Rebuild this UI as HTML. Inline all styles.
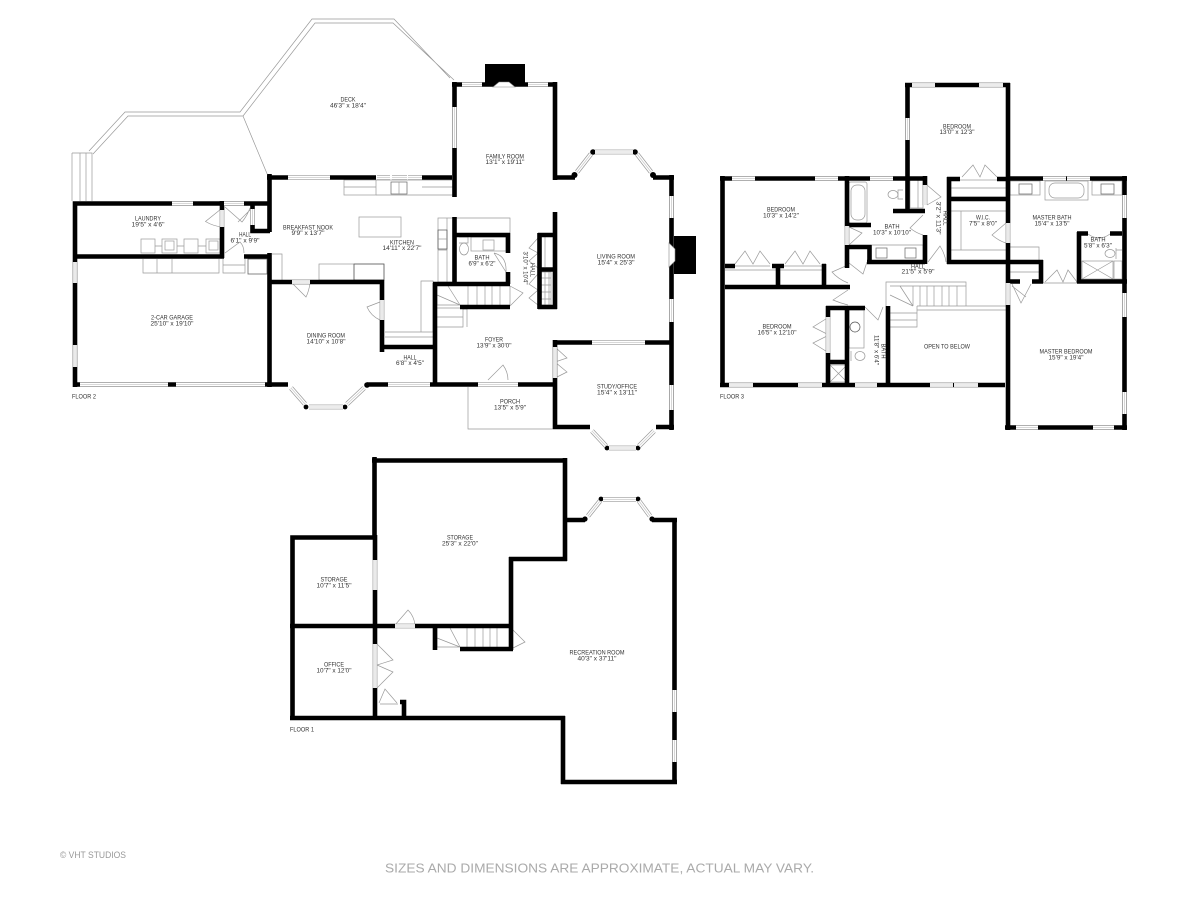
<!DOCTYPE html>
<html><head><meta charset="utf-8"><style>
html,body{margin:0;padding:0;background:#fff;width:1200px;height:900px;overflow:hidden}
svg{display:block;filter:blur(.3px)}
.wall{fill:none;stroke:#000;stroke-width:4.6}
.thin{fill:none;stroke:#999;stroke-width:.7}
.dk{fill:none;stroke:#666;stroke-width:.8}
text{font-family:"Liberation Sans",sans-serif;font-size:6.6px;fill:#333;text-anchor:middle;dominant-baseline:central}
</style></head><body>
<svg width="1200" height="900" viewBox="0 0 1200 900" xmlns="http://www.w3.org/2000/svg">
<defs>
<path id="W" fill="none" d="M172 203.5H193M224 203.5H244M75 262V283M75 345V367M80 384.5H168M176 384.5H265M288 177.5H330M377 177.5H390M392 177.5H407M408 177.5H422M454.5 107V148M462 84.5H482M528 84.5H548M577 172L591 154M595 152H633M637 154L651 172M671.5 196V218M671.5 299V322M671.5 385V410M592 342.5H645M555 347V378M592 431L606 446M609 448H636M639 446L654 431M388 384.5H430M478 384.5H518M292 282H310M382 300V320M291 388L305 404M309 407H343M347 404L364 388M912 85H935M979 85H1003M907.5 118V140M732 178.5H755M815 178.5H838M870 178.5H893M1043 178.5H1066M1067 178.5H1090M1008 223V243M1008 283V305M1124.5 195V218M1124.5 293V317M1124.5 392V414M729 385H753M798 385H822M855 385H877M930 385H953M954 385H978M1016 427.5H1038M1093 427.5H1114M375 560V590M395 626H415M674.5 690V712M674.5 740V762M588 516L600 501M603 499.5H636M639 501L650 516M828 317V353M375 644V688M847 226V245M925 185V205M252.5 209V225M222 210V227"/>
</defs>

<!-- deck -->
<path class="thin" d="M89 151L125 112H240L312 19H394L450 78M93 154L128 116H243L315 23H393L454 80M243 116L268 176"/>
<path class="thin" d="M72 153H92V201M72 153V201M80 153V201M86 153V201"/>

<!-- fixtures floor 2 -->
<g class="thin">
<path d="M141 246H220M143 259V273H219V259M157 259V273M172 259V273"/>
<rect x="141" y="239" width="14" height="14" fill="#fff"/><rect x="162" y="239" width="15" height="14" fill="#fff"/><rect x="184" y="239" width="14" height="14" fill="#fff"/><rect x="206" y="239" width="14" height="14" fill="#fff"/>
<rect x="165" y="241" width="9" height="9" /><rect x="209" y="241" width="9" height="9"/>
<path d="M223 259V273H245V259M223 265H245"/>
<rect x="344" y="180" width="32" height="15"/><path d="M344 187H376M376 180H453V195H376M422 187H453"/>
<rect x="391" y="182" width="16" height="12" stroke="#666"/><path d="M399 182V194"/>
<rect x="359" y="217" width="42" height="20"/>
<rect x="319" y="264" width="65" height="16"/><path d="M354 264V280M272 254H282V280"/>
<rect x="354" y="264" width="30" height="16" stroke="#555"/>
<rect x="438" y="218" width="15" height="64"/><path d="M438 250H447V265M447 218V282"/>
<rect x="438" y="230" width="9" height="19" stroke="#555"/><path d="M438 239H447"/>
<path d="M453 218H510V233"/>
<rect x="471" y="237" width="35" height="14"/><rect x="483" y="240" width="11" height="10"/><ellipse cx="464" cy="249" rx="4.5" ry="6"/><path d="M459 237H468V243H459"/>
<path d="M437 286V305M510 286V305M437 305H460M468 286V305M477 286V305M485 286V305M492 286V305M500 286V305M437 295L460 305M448 286L460 305M437 308H463V327H437M437 317H463M463 309H467V327"/>
<path d="M385 332H433M385 337H433M421 332V281H433V332"/>
<path d="M541 237V267M545 237V267M541 272H551V305H541M545 272V305M549 272V305M541 278H551M541 285H551M541 292H551M541 299H551"/>
<path d="M468 387V429H553"/>
</g>
<rect x="248" y="259" width="19" height="15" class="dk"/>
<!-- doors floor 2 -->
<path class="thin" d="M223.5 207L205.5 221.5Q213 226 222 227M225 207L242 222Q247 216 250 208M252 208L238 222M225 253L240 242Q244 246 244 253M292 283L306 297Q309 291 310 283M380 302L367 307Q371 316 380 320M488 380L503 365Q508 372 508 380M538 238L529 248L538 253L529 261L538 268M538 274L529 284L538 290L529 298L538 305M510 286L523 293L510 306M555 347L567 358L555 362L567 372L555 378M494 253L506 272Q507 256 494 253"/>

<!-- fixtures floor 3 -->
<g class="thin">
<rect x="849" y="182" width="18" height="41" rx="2"/><rect x="851" y="185" width="14" height="35" rx="6"/>
<path d="M903 190H898V199H903"/><ellipse cx="893" cy="194.500" rx="5" ry="4"/>
<rect x="910" y="180" width="13" height="28"/><path d="M918 180V208"/>
<path d="M872 245H923V260"/><rect x="876" y="248" width="11" height="10" stroke="#666"/><rect x="905" y="248" width="11" height="10" stroke="#666"/>
<path d="M725 270H776M780 270H822M735 266H770M784 266H822"/>
<rect x="951" y="180" width="55" height="17"/><path d="M951 188H1006"/>
<path d="M951 211H1006M961 211V250M951 250H1006"/>
<rect x="1010" y="181" width="30" height="14"/><rect x="1019" y="184" width="13" height="10" stroke="#666"/>
<rect x="1045" y="181" width="43" height="19"/><rect x="1049" y="183" width="35" height="15" rx="6"/>
<rect x="1092" y="181" width="30" height="14"/><rect x="1101" y="184" width="13" height="10" stroke="#666"/>
<path d="M1010 247H1039V260M1010 272H1040"/>
<path d="M1116 248V259M1122 250H1116"/><ellipse cx="1110" cy="253.500" rx="5" ry="4"/>
<rect x="1082" y="261" width="31" height="18"/><path d="M1082 261L1113 279M1113 261L1082 279"/>
<rect x="1114" y="261" width="8" height="18"/>
<rect x="849" y="310" width="15" height="38"/><circle cx="855" cy="327" r="5" stroke="#555"/>
<ellipse cx="860" cy="356" rx="5" ry="4.500"/><path d="M851 351V361"/>
<rect x="830" y="365" width="17" height="17"/><path d="M830 365L847 382M847 365L830 382"/>
<path d="M886 306V282H966V306M890 286H966M913 286V306M920 286V306M927 286V306M934 286V306M942 286V306M949 286V306M957 286V306M890 295L913 306M900 286L913 306M890 313H917M890 320H917M917 306V327H890M917 310H1006M917 306H1006"/>
<path d="M1043 283H1077"/>
</g>
<path class="thin" d="M735 264L745 251L753 264L760 251L770 264M785 264L795 251L803 264L810 251L820 264M962 177L973 165L980 177L985 165L997 177M849 227L862 233L849 245M927 185L941 197L927 205M923 215L910 228Q916 233 923 235M928 262L940 246Q945 254 946 262M1006 223L992 235Q999 241 1006 243M848 265L832 272Q838 279 848 283M849 263L863 274L867 262M848 290L833 300Q840 303 848 305M829 317L813 327L829 335L813 343L829 353M865 307L878 320L883 307M1012 284L1021 303L1031 284M1012 286L1026 297M1045 282L1057 270L1063 282L1068 270L1077 282M1088 234Q1099 242 1110 234"/>

<!-- floor 1 fixtures -->
<g class="thin">
<path d="M437 628V647H460M467 628V647M475 628V647M483 628V647M490 628V647M497 628V647M437 638L460 647M450 628L460 647M513 630L525 642L513 648M377 644L393 660L377 665L393 672L377 688M379 703L385 689L397 703M380 704H398M395 625L408 610Q414 616 415 625"/>
</g>

<!-- walls -->
<path class="wall" d="M75 387V203.5H269.5M73 384.5H271M75 256.5H224M244 256.5H269.5M222 201V210M222 227V258M252.5 204V209M252.5 225V231H270M269.500 174V232M269.500 253V387M267 177.500H288M330 177.500H376M422 177.500H452M454.500 82V197M454.500 217V284M452 84.500H557M555 82V180M553 177.500H575M653 177.500H674M671.500 175V430M553 342.500H592M645 342.500H670M555 212V309M555 340V429M553 427H590M656 427H674M370 384.500H388M430 384.500H478M518 384.500H553M269 282H384M382 280V300M382 320V352M269 384.500H288M367 384.500H388M454 235H510M508 233V253M508 272V284M433 284H510M435 283V386M460 307H510M381 347H437M538 235H557M539.500 233V309M538 269.500H557M538 307H557"/>
<path class="wall" d="M905 85H1010M907.500 83V211M1008 83V223M1008 243V283M1008 305V430M720 178.500H927M722.500 176V387M720 385H1005M725 287H850M725 266H735M772 266H784M822 266H826M778 264V287M824 264V287M847 176V227M847 245V268M845 247H869.500V262M867 262H925M925 176V185M925 235V264M893 211H925M845 225H871M949 177V264M947 179H960M997 179H1010M949 199H1006M947 262H1043M1041 260V283M1009 281.500H1020M1032 281.500H1043M1077 281.500H1127M1010 178.500H1127M1124.500 176V430M1005 427.500H1127M1079 232V283M1077 233.500H1088M1110 233.500H1122M826 308H865M828 306V317M828 353V387M847 306V387M826 362H849M888 306V385"/>
<path class="wall" d="M292.500 720V537.500H377M374.500 457V538M372 460.500H567M565 458V561M509 559H567M511 557V650M290 626H395M415 626H513M375 535V560M375 590V644M375 688V717M290 718H565M563 716V784M561 782H677M674.500 518V784M565 520H585M652 520H677M435 627V650M460 649H513M400 702H404V717"/>

<!-- fireplaces and bay corners -->
<rect x="485" y="64" width="40" height="21"/>
<path d="M493 87L499 82H509L515 87Z" fill="#fff" stroke="#888" stroke-width=".6"/>
<rect x="674" y="236" width="22" height="38"/>
<path d="M669 243L675 249V261L669 267Z" fill="#fff" stroke="#888" stroke-width=".6"/>
<g fill="#000">
<circle cx="574.500" cy="175" r="3"/><circle cx="593" cy="152" r="2.800"/><circle cx="635" cy="152" r="2.800"/><circle cx="653" cy="175" r="3"/>
<circle cx="607" cy="448" r="2.400"/><circle cx="638" cy="448" r="2.400"/><circle cx="306" cy="407" r="2.400"/><circle cx="345" cy="407" r="2.400"/><circle cx="367" cy="385" r="2.800"/><circle cx="601" cy="499" r="2.400"/><circle cx="638" cy="499" r="2.400"/><circle cx="585" cy="519" r="2.600"/><circle cx="652" cy="519" r="2.600"/>
</g>

<!-- windows -->
<use href="#W" stroke="#999" stroke-width="4.8"/>
<use href="#W" stroke="#fff" stroke-width="3.4"/>
<use href="#W" stroke="#ccc" stroke-width=".8"/>

<!-- labels floor 2 -->
<text x="348" y="100" textLength="15" lengthAdjust="spacingAndGlyphs">DECK</text><text x="348" y="106" textLength="36" lengthAdjust="spacingAndGlyphs">46'3" x 18'4"</text>
<text x="148" y="219" textLength="26" lengthAdjust="spacingAndGlyphs">LAUNDRY</text><text x="148" y="225" textLength="33" lengthAdjust="spacingAndGlyphs">19'5" x 4'6"</text>
<text x="245" y="235" textLength="12" lengthAdjust="spacingAndGlyphs">HALL</text><text x="245" y="241" textLength="29" lengthAdjust="spacingAndGlyphs">6'1" x 9'9"</text>
<text x="308" y="228" textLength="50" lengthAdjust="spacingAndGlyphs">BREAKFAST NOOK</text><text x="308" y="233.500" textLength="33" lengthAdjust="spacingAndGlyphs">9'9" x 13'7"</text>
<text x="172" y="318" textLength="42" lengthAdjust="spacingAndGlyphs">2-CAR GARAGE</text><text x="172" y="324" textLength="43" lengthAdjust="spacingAndGlyphs">25'10" x 19'10"</text>
<text x="326" y="336" textLength="38" lengthAdjust="spacingAndGlyphs">DINING ROOM</text><text x="326" y="342" textLength="39" lengthAdjust="spacingAndGlyphs">14'10" x 10'8"</text>
<text x="402" y="243" textLength="24" lengthAdjust="spacingAndGlyphs">KITCHEN</text><text x="402" y="248.500" textLength="39" lengthAdjust="spacingAndGlyphs">14'11" x 22'7"</text>
<text x="482" y="258" textLength="15" lengthAdjust="spacingAndGlyphs">BATH</text><text x="482" y="264" textLength="27" lengthAdjust="spacingAndGlyphs">6'9" x 6'2"</text>
<text x="505" y="157" textLength="38" lengthAdjust="spacingAndGlyphs">FAMILY ROOM</text><text x="505" y="162.500" textLength="39" lengthAdjust="spacingAndGlyphs">13'1" x 19'11"</text>
<text x="616" y="257" textLength="38" lengthAdjust="spacingAndGlyphs">LIVING ROOM</text><text x="616" y="263" textLength="37" lengthAdjust="spacingAndGlyphs">15'4" x 25'3"</text>
<text x="494" y="340" textLength="18" lengthAdjust="spacingAndGlyphs">FOYER</text><text x="494" y="346" textLength="35" lengthAdjust="spacingAndGlyphs">13'9" x 30'0"</text>
<text x="410" y="358" textLength="13" lengthAdjust="spacingAndGlyphs">HALL</text><text x="410" y="363.500" textLength="28" lengthAdjust="spacingAndGlyphs">6'8" x 4'5"</text>
<text x="510" y="402" textLength="20" lengthAdjust="spacingAndGlyphs">PORCH</text><text x="510" y="408" textLength="32" lengthAdjust="spacingAndGlyphs">13'5" x 5'9"</text>
<text x="617" y="387" textLength="40" lengthAdjust="spacingAndGlyphs">STUDY/OFFICE</text><text x="617" y="393" textLength="40" lengthAdjust="spacingAndGlyphs">15'4" x 13'11"</text>
<text transform="translate(532 270) rotate(90)" textLength="14" lengthAdjust="spacingAndGlyphs">HALL</text><text transform="translate(525 268) rotate(90)" textLength="33" lengthAdjust="spacingAndGlyphs">3'10" x 10'4"</text>
<text x="84" y="397" textLength="24" lengthAdjust="spacingAndGlyphs">FLOOR 2</text>

<!-- labels floor 3 -->
<text x="957" y="127" textLength="28" lengthAdjust="spacingAndGlyphs">BEDROOM</text><text x="957" y="132.500" textLength="35" lengthAdjust="spacingAndGlyphs">13'0" x 12'3"</text>
<text x="781" y="210" textLength="28" lengthAdjust="spacingAndGlyphs">BEDROOM</text><text x="781" y="216" textLength="36" lengthAdjust="spacingAndGlyphs">10'3" x 14'2"</text>
<text x="892" y="227" textLength="15" lengthAdjust="spacingAndGlyphs">BATH</text><text x="892" y="233" textLength="38" lengthAdjust="spacingAndGlyphs">10'3" x 10'10"</text>
<text transform="translate(945 218) rotate(90)" textLength="15" lengthAdjust="spacingAndGlyphs">HALL</text><text transform="translate(938 218) rotate(90)" textLength="33" lengthAdjust="spacingAndGlyphs">3'2" x 11'3"</text>
<text x="983" y="218" textLength="14" lengthAdjust="spacingAndGlyphs">W.I.C.</text><text x="983" y="224" textLength="28" lengthAdjust="spacingAndGlyphs">7'5" x 8'0"</text>
<text x="1052" y="218" textLength="39" lengthAdjust="spacingAndGlyphs">MASTER BATH</text><text x="1052" y="224" textLength="35" lengthAdjust="spacingAndGlyphs">15'4" x 13'5"</text>
<text x="1098" y="240" textLength="15" lengthAdjust="spacingAndGlyphs">BATH</text><text x="1098" y="246" textLength="28" lengthAdjust="spacingAndGlyphs">5'8" x 6'3"</text>
<text x="918" y="267" textLength="14" lengthAdjust="spacingAndGlyphs">HALL</text><text x="918" y="272" textLength="33" lengthAdjust="spacingAndGlyphs">21'5" x 5'9"</text>
<text x="777" y="327" textLength="29" lengthAdjust="spacingAndGlyphs">BEDROOM</text><text x="777" y="333" textLength="39" lengthAdjust="spacingAndGlyphs">16'5" x 12'10"</text>
<text transform="translate(883 351) rotate(90)" textLength="15" lengthAdjust="spacingAndGlyphs">BATH</text><text transform="translate(876 350) rotate(90)" textLength="30" lengthAdjust="spacingAndGlyphs">11'8" x 6'4"</text>
<text x="947" y="347" textLength="46" lengthAdjust="spacingAndGlyphs">OPEN TO BELOW</text>
<text x="1066" y="352" textLength="53" lengthAdjust="spacingAndGlyphs">MASTER BEDROOM</text><text x="1066" y="358" textLength="35" lengthAdjust="spacingAndGlyphs">15'9" x 19'4"</text>
<text x="732" y="397" textLength="24" lengthAdjust="spacingAndGlyphs">FLOOR 3</text>

<!-- labels floor 1 -->
<text x="460" y="538" textLength="26" lengthAdjust="spacingAndGlyphs">STORAGE</text><text x="460" y="544" textLength="36" lengthAdjust="spacingAndGlyphs">25'3" x 22'0"</text>
<text x="334" y="580" textLength="27" lengthAdjust="spacingAndGlyphs">STORAGE</text><text x="334" y="586" textLength="35" lengthAdjust="spacingAndGlyphs">10'7" x 11'5"</text>
<text x="334" y="665" textLength="20" lengthAdjust="spacingAndGlyphs">OFFICE</text><text x="334" y="671" textLength="35" lengthAdjust="spacingAndGlyphs">10'7" x 12'0"</text>
<text x="597" y="653" textLength="55" lengthAdjust="spacingAndGlyphs">RECREATION ROOM</text><text x="597" y="659" textLength="39" lengthAdjust="spacingAndGlyphs">40'3" x 37'11"</text>
<text x="302" y="730" textLength="24" lengthAdjust="spacingAndGlyphs">FLOOR 1</text>

<!-- footer -->
<text x="93" y="855" style="font-size:9px;fill:#999" textLength="66" lengthAdjust="spacingAndGlyphs">© VHT STUDIOS</text>
<text x="599.500" y="868" style="font-size:13px;fill:#aaa" textLength="429" lengthAdjust="spacingAndGlyphs">SIZES AND DIMENSIONS ARE APPROXIMATE, ACTUAL MAY VARY.</text>
</svg>
</body></html>
